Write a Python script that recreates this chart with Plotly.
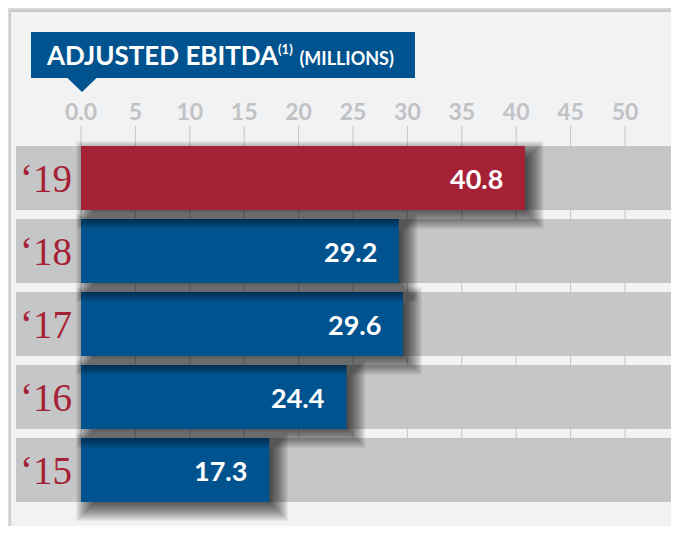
import plotly.graph_objects as go

# ---- data ----
years = ["\u201819", "\u201818", "\u201817", "\u201816", "\u201815"]
values = [40.8, 29.2, 29.6, 24.4, 17.3]
bar_colors = ["#a52236", "#00538f", "#00538f", "#00538f", "#00538f"]
tick_vals = [0, 5, 10, 15, 20, 25, 30, 35, 40, 45, 50]
tick_text = ["0.0", "5", "10", "15", "20", "25", "30", "35", "40", "45", "50"]
title_main = "ADJUSTED EBITDA"
title_note = "(1)"
title_unit = "(MILLIONS)"

# ---- geometry / style (page pixels; the page body adds an 8px margin) ----
OFF = 8
W, H = 679 - 2 * OFF, 534 - 2 * OFF
PX_PER_UNIT = 10.88
ZERO_PX = 81 - OFF
TOP = 126 - OFF
ROW_PX = 73
ROW0_PX = 178 - OFF
BAR_PX = 64
BAND_LEFT_PX = 16 - OFF

x_range = [-ZERO_PX / PX_PER_UNIT, (W - ZERO_PX) / PX_PER_UNIT]
y_range = [(H - ROW0_PX) / ROW_PX, (TOP - ROW0_PX) / ROW_PX]
bar_w = BAR_PX / ROW_PX
ux = 1 / PX_PER_UNIT
uy = 1 / ROW_PX


def px_x(p):
    return (p - OFF) / W


def px_y(p):
    return (H - (p - OFF)) / (H - TOP)


CARD = "#f1f2f4"
BAND = "#c5c6c8"
GRID = "#c3c4c6"
BLUE = "#00538f"
RED_TXT = "#a52236"
FONT = "Lato"

fig = go.Figure()

rows = list(range(len(years)))
sh_dx, sh_dy = 7, 7
spreads = list(range(-10, 13))
for k in reversed(rows):
    v = values[k]
    fig.add_trace(go.Bar(
        orientation="h",
        y=[k + sh_dy * uy] * len(spreads),
        base=[(sh_dx - s) * ux for s in spreads],
        x=[v + 2 * s * ux for s in spreads],
        width=[bar_w + 2 * s * uy for s in spreads],
        marker=dict(color="rgba(0,0,0,0.048)", line=dict(width=0)),
        hoverinfo="skip", showlegend=False,
    ))
    fig.add_trace(go.Bar(
        orientation="h", y=[k], x=[v], base=[0], width=[bar_w],
        marker=dict(color=bar_colors[k], line=dict(width=0)),
        hoverinfo="skip", showlegend=False,
    ))

shapes = []
# card edge shadow (outer strips, reference px 8..12 top, 8..11 left)
top_cols = ["#dadada", "#d2d2d2", "#cbcbcb", "#c6c6c6"]
for i, c in enumerate(top_cols):
    shapes.append(dict(type="rect", xref="paper", yref="paper", x0=px_x(8 + i), x1=1.01,
                       y0=px_y(9 + i), y1=px_y(8 + i), fillcolor=c, line_width=0, layer="below"))
left_cols = ["#dcdcdc", "#d2d2d2", "#c9c9c9"]
for i, c in enumerate(left_cols):
    shapes.append(dict(type="rect", xref="paper", yref="paper", x0=px_x(8 + i), x1=px_x(9 + i),
                       y0=-0.01, y1=px_y(8 + i), fillcolor=c, line_width=0, layer="below"))
# bands
for k in rows:
    shapes.append(dict(type="rect", xref="x", yref="y",
                       x0=(BAND_LEFT_PX - ZERO_PX) / PX_PER_UNIT, x1=x_range[1],
                       y0=k - bar_w / 2, y1=k + bar_w / 2,
                       fillcolor=BAND, line_width=0, layer="below"))
# grid lines
for t in tick_vals:
    shapes.append(dict(type="line", xref="x", yref="y", x0=t, x1=t,
                       y0=y_range[1], y1=rows[-1] + bar_w / 2,
                       line=dict(color=GRID, width=1), layer="below"))
# title box + pointer
shapes.append(dict(type="rect", xref="paper", yref="paper",
                   x0=px_x(31), x1=px_x(415), y0=px_y(78), y1=px_y(32),
                   fillcolor=BLUE, line_width=0))
shapes.append(dict(type="path", xref="paper", yref="paper",
                   path=f"M {px_x(67)} {px_y(77.5)} L {px_x(97)} {px_y(77.5)} L {px_x(82)} {px_y(92)} Z",
                   fillcolor=BLUE, line_width=0))

annotations = []
annotations.append(dict(
    xref="paper", yref="paper", x=px_x(44), y=px_y(55), xanchor="left", yanchor="middle",
    text=(f"<b>{title_main}</b><sup><span style='font-size:13px'><b>{title_note}</b></span></sup>"
          f" <span style='font-size:18px'><b>{title_unit}</b></span>"),
    showarrow=False, font=dict(family=FONT, size=26, color="white"),
))
for k in rows:
    annotations.append(dict(
        xref="x", yref="y", x=values[k], y=k, xanchor="right", yanchor="middle",
        xshift=-20, text=f"<b>{values[k]:.1f}</b>", showarrow=False,
        font=dict(family=FONT, size=27, color="white"),
    ))
    annotations.append(dict(
        xref="x", yref="y", x=(46 - 81) / PX_PER_UNIT, y=k, xanchor="center", yanchor="middle",
        text=years[k], showarrow=False,
        font=dict(family="Liberation Serif", size=39, color=RED_TXT),
    ))

fig.update_layout(
    width=W, height=H,
    margin=dict(l=0, r=0, t=TOP, b=0, pad=0),
    paper_bgcolor=CARD, plot_bgcolor="rgba(0,0,0,0)",
    barmode="overlay",
    shapes=shapes, annotations=annotations,
    xaxis=dict(range=x_range, side="top", tickvals=tick_vals, ticktext=tick_text,
               showgrid=False, zeroline=False, showline=False, ticks="",
               tickfont=dict(family=FONT, size=23, color="#c1c2c4", weight="bold"),
               fixedrange=True),
    yaxis=dict(range=y_range, visible=False, fixedrange=True),
    showlegend=False,
)

fig.write_html("out.html")
